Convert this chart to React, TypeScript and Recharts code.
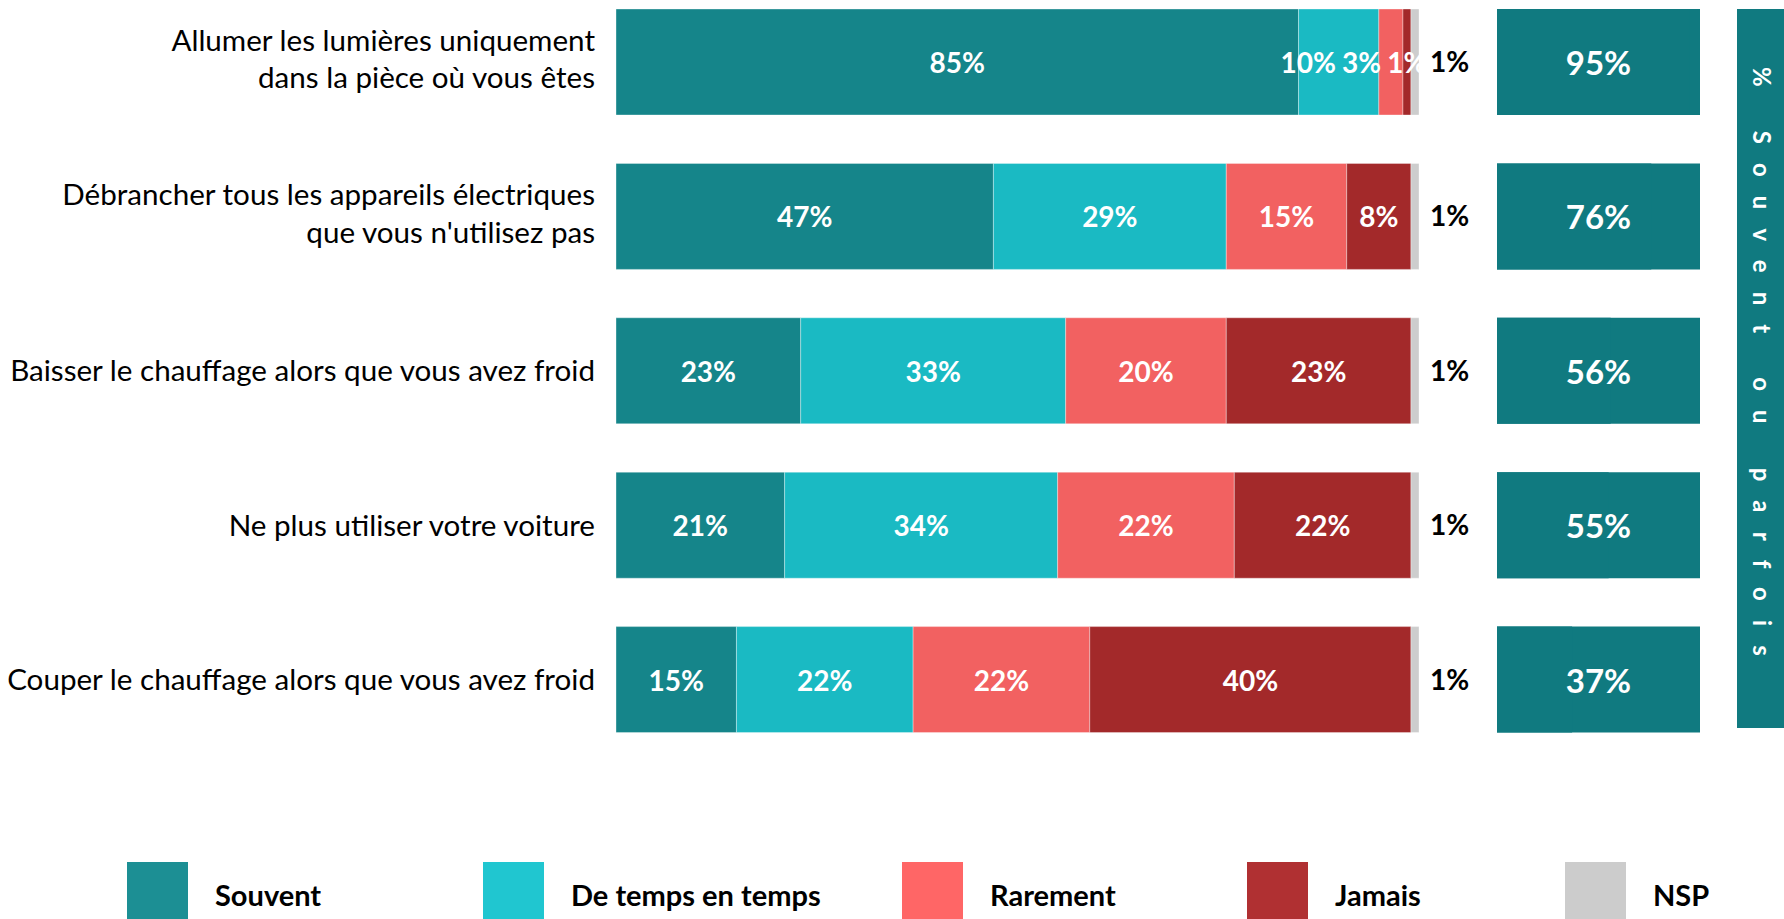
import React from 'react'
import { BarChart, Bar, XAxis, YAxis, LabelList } from 'recharts'

// categories, one per row (line breaks as in the original)
const categories = [
  'Allumer les lumières uniquement\ndans la pièce où vous êtes',
  'Débrancher tous les appareils électriques\nque vous n\'utilisez pas',
  'Baisser le chauffage alors que vous avez froid',
  'Ne plus utiliser votre voiture',
  'Couper le chauffage alors que vous avez froid',
]

const souvent = [85, 47, 23, 21, 15]
const deTemps = [10, 29, 33, 34, 22]
const rarement = [3, 15, 20, 22, 22]
const jamais = [1, 8, 23, 22, 40]
const nsp = [1, 1, 1, 1, 1]
const souventOuParfois = [95, 76, 56, 55, 37]

const series = [
  { key: 'souvent', name: 'Souvent', color: '#15858a', legend: '#1c8f94' },
  { key: 'deTemps', name: 'De temps en temps', color: '#1abac3', legend: '#20c6d0' },
  { key: 'rarement', name: 'Rarement', color: '#f26161', legend: '#ff6666' },
  { key: 'jamais', name: 'Jamais', color: '#a3292a', legend: '#b03032' },
  { key: 'nsp', name: 'NSP', color: '#cdcdcd', legend: '#cccccc' },
]

const data = categories.map((name, i) => ({
  name,
  souvent: souvent[i],
  deTemps: deTemps[i],
  rarement: rarement[i],
  jamais: jamais[i],
  nsp: nsp[i],
  total: souventOuParfois[i],
}))

const FONT = 'Lato, "Open Sans", sans-serif'
const BOX = '#107a80'
const CHART_H = 772
const BAR = 106
const BOX_W = 203
const LABEL_FS = 28
const legendLeft = [127, 483, 902, 1247, 1565]

// series that carry a white label inside the bar
const inside = ['souvent', 'deTemps', 'rarement', 'jamais']

const textW = (v: number) => LABEL_FS * (0.58 * String(v).length + 0.79)

// label centres of a row, pushed left when narrow segments would overlap (as Excel does)
function rowCentres(row: any, pxPer: number, x0: number) {
  let acc = 0
  const vals = inside.map((k) => row[k])
  const c = vals.map((v) => {
    const cx = x0 + (acc + v / 2) * pxPer
    acc += v
    return cx
  })
  for (let i = c.length - 2; i >= 0; i--) {
    const maxRight = c[i + 1] - textW(vals[i + 1]) / 2 - 7
    if (c[i] + textW(vals[i]) / 2 > maxRight) c[i] = maxRight - textW(vals[i]) / 2
  }
  return c
}

function makeInsideLabel(key: string) {
  const si = inside.indexOf(key)
  return function InsideLabel(props: any) {
    const { x, y, width, height, value, index } = props
    const row = data[index] as any
    let cx = x + width / 2
    if (row && value) {
      const pxPer = width / value
      let before = 0
      for (let j = 0; j < si; j++) before += row[inside[j]]
      cx = rowCentres(row, pxPer, x - before * pxPer)[si]
    }
    return (
      <text
        x={cx}
        y={y + height / 2}
        textAnchor="middle"
        dominantBaseline="central"
        fill="#fff"
        fontWeight={700}
        fontSize={LABEL_FS}
        fontFamily={FONT}
      >
        {value}%
      </text>
    )
  }
}

function CategoryTick(props: any) {
  const { x, y, payload } = props
  const lines = String(payload.value).split('\n')
  const lh = 37.5
  const fs = 29.6
  const n = lines.length - 1
  const y0 = y - (n * lh) / 2 - n * 3 + fs * 0.35
  return (
    <text x={x} y={y0} textAnchor="end" fontSize={fs} fontFamily={FONT} fill="#000">
      {lines.map((l, i) => (
        <tspan key={i} x={x} y={y0 + i * lh}>
          {l}
        </tspan>
      ))}
    </text>
  )
}

function BoxLabel(props: any) {
  const { y, height, value } = props
  return (
    <text
      x={BOX_W / 2}
      y={y + height / 2}
      textAnchor="middle"
      dominantBaseline="central"
      fill="#fff"
      fontWeight={700}
      fontSize={33}
      fontFamily={FONT}
    >
      {value}%
    </text>
  )
}

export default function App() {
  return (
    <div style={{ position: 'relative', width: 1784, height: 919, overflow: 'hidden', fontFamily: FONT, background: '#fff' }}>
      <style>{'body{margin:0}'}</style>

      <div style={{ position: 'absolute', left: 0, top: -15 }}>
        <BarChart
          width={1784}
          height={CHART_H}
          data={data}
          layout="vertical"
          barSize={BAR}
          margin={{ top: 0, right: 365, bottom: 0, left: 0 }}
        >
          <XAxis type="number" domain={[0, 100]} hide />
          <YAxis
            type="category"
            dataKey="name"
            width={616}
            axisLine={false}
            tickLine={false}
            tickSize={0}
            tickMargin={21}
            interval={0}
            tick={<CategoryTick />}
          />
          {series.map((s) => (
            <Bar
              key={s.key}
              dataKey={s.key}
              name={s.name}
              stackId="a"
              fill={s.color}
              stroke="#ffffff"
              strokeOpacity={0.35}
              strokeWidth={1}
              isAnimationActive={false}
            >
              {s.key === 'nsp' ? (
                <LabelList
                  dataKey={s.key}
                  position="right"
                  offset={11}
                  formatter={(v: any) => `${v}%`}
                  fill="#000"
                  fontWeight={700}
                  fontSize={LABEL_FS}
                  fontFamily={FONT}
                />
              ) : (
                <LabelList dataKey={s.key} content={makeInsideLabel(s.key)} />
              )}
            </Bar>
          ))}
        </BarChart>
      </div>

      <div style={{ position: 'absolute', left: 1497, top: -15 }}>
        <BarChart
          width={BOX_W}
          height={CHART_H}
          data={data}
          layout="vertical"
          barSize={BAR}
          margin={{ top: 0, right: 0, bottom: 0, left: 0 }}
        >
          <XAxis type="number" domain={[0, 100]} hide />
          <YAxis type="category" dataKey="name" hide />
          <Bar
            dataKey="total"
            name="% Souvent ou parfois"
            fill={BOX}
            background={{ fill: BOX }}
            isAnimationActive={false}
          >
            <LabelList dataKey="total" content={<BoxLabel />} />
          </Bar>
        </BarChart>
      </div>

      <div
        style={{
          position: 'absolute',
          left: 1737,
          top: 9,
          width: 50,
          height: 719,
          background: BOX,
        }}
      >
        <div
          style={{
            position: 'absolute',
            left: 0,
            top: 58,
            width: 50,
            writingMode: 'vertical-rl',
            color: '#fff',
            fontWeight: 700,
            fontSize: 24,
            letterSpacing: 19.1,
            whiteSpace: 'pre',
            display: 'flex',
            alignItems: 'center',
          }}
        >
          % Souvent ou parfois
        </div>
      </div>

      {series.map((s, i) => (
        <div key={s.key} style={{ position: 'absolute', left: legendLeft[i], top: 862 }}>
          <div style={{ position: 'absolute', left: 0, top: 0, width: 61, height: 60, background: s.legend }} />
          <div
            style={{
              position: 'absolute',
              left: 88,
              top: 16,
              fontSize: 29,
              fontWeight: 700,
              color: '#000',
              whiteSpace: 'nowrap',
              lineHeight: '34px',
            }}
          >
            {s.name}
          </div>
        </div>
      ))}
    </div>
  )
}
